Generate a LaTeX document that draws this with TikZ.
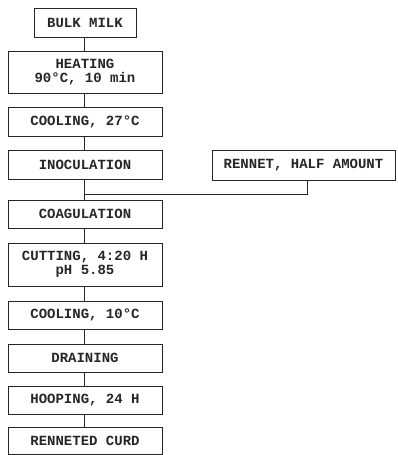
\documentclass[tikz,border=0pt]{standalone}
\usepackage{fontspec}
\setmonofont{Liberation Mono}
\begin{document}
\begin{tikzpicture}[x=1pt,y=-1pt,
  box/.style={draw=black!85,line width=1pt,rectangle,inner sep=0pt,align=center,
    font=\ttfamily\bfseries\fontsize{14}{14.5}\selectfont,text=black!85},
  link/.style={draw=black!85,line width=1pt}]
\useasboundingbox (0,0) rectangle (398,455);
\node[box,minimum width=102,minimum height=29] (bulk) at (85,22.5) {BULK MILK};
\node[box,minimum width=154,minimum height=42] (heat) at (85,72) {HEATING\\90°C, 10 min};
\node[box,minimum width=154,minimum height=29] (cool1) at (85,121.5) {COOLING, 27°C};
\node[box,minimum width=154,minimum height=29] (inoc) at (85,164.5) {INOCULATION};
\node[box,minimum width=183,minimum height=30] (rennet) at (303.5,165) {RENNET, HALF AMOUNT};
\node[box,minimum width=154,minimum height=28] (coag) at (85,214) {COAGULATION};
\node[box,minimum width=154,minimum height=43] (cut) at (85,264.5) {CUTTING, 4:20 H\\pH 5.85};
\node[box,minimum width=154,minimum height=28] (cool2) at (85,315) {COOLING, 10°C};
\node[box,minimum width=154,minimum height=28] (drain) at (85,358) {DRAINING};
\node[box,minimum width=154,minimum height=28] (hoop) at (85,400) {HOOPING, 24 H};
\node[box,minimum width=154,minimum height=27] (curd) at (85,441) {RENNETED CURD};
\coordinate (j) at (84,194);
\coordinate (r) at (307,194);
\draw[link] (bulk.south -| j) -- (heat.north -| j);
\draw[link] (heat.south -| j) -- (cool1.north -| j);
\draw[link] (cool1.south -| j) -- (inoc.north -| j);
\draw[link] (inoc.south -| j) -- (coag.north -| j);
\draw[link] (rennet.south -| r) -- (r) -- (j);
\draw[link] (coag.south -| j) -- (cut.north -| j);
\draw[link] (cut.south -| j) -- (cool2.north -| j);
\draw[link] (cool2.south -| j) -- (drain.north -| j);
\draw[link] (drain.south -| j) -- (hoop.north -| j);
\draw[link] (hoop.south -| j) -- (curd.north -| j);
\end{tikzpicture}
\end{document}
